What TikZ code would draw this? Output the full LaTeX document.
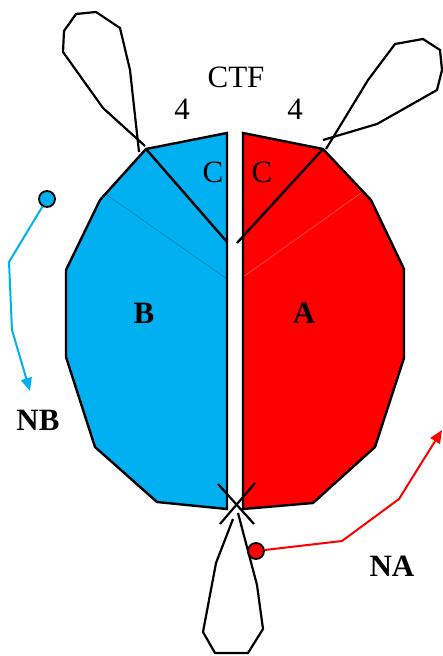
\documentclass[tikz,border=0pt]{standalone}
\usepackage{fontspec}
\setmainfont{Liberation Serif}
\usepackage{xcolor}
\usepackage{tikz}
\usetikzlibrary{positioning, arrows.meta}
\definecolor{partblue}{RGB}{0,176,240}
\definecolor{partred}{RGB}{255,0,0}

\begin{document}
\begin{tikzpicture}[x=1pt, y=-1pt, line join=miter,
    half/.style={draw=black, line width=2.4pt},
    seam/.style={line width=0.5pt},
    loopline/.style={draw=black, line width=2.2pt},
    lbl/.style={font=\fontsize{31}{31}\selectfont, inner sep=0pt, anchor=base},
    boldlbl/.style={lbl, font=\fontsize{31}{31}\selectfont\bfseries},
    dot/.style={circle, draw=black, line width=1.8pt, minimum size=16pt, inner sep=0pt},
    pathline/.style={line width=2pt, -{Triangle[length=13pt,width=11pt]}}]
    \useasboundingbox (0,0) rectangle (443,656);

    % half B
    \fill[partblue] (227,133) -- (146,149) -- (100,200) -- (66,270) -- (66,357)
      -- (95,447) -- (157,502) -- (227,509) -- cycle;
    \draw[seam, partblue!70!black] (107,195) -- (227,279);
    \draw[half] (227,133) -- (146,149) -- (100,200) -- (66,270) -- (66,357)
      -- (95,447) -- (157,502) -- (227,509) -- cycle;
    \draw[half] (146,149) -- (227,242);

    % half A
    \fill[partred] (243,133) -- (323,149) -- (371,200) -- (404,269) -- (404,358)
      -- (375,447) -- (313,503) -- (243,509) -- cycle;
    \draw[seam, partred!60!white] (361,193) -- (243,277);
    \draw[half] (243,133) -- (323,149) -- (371,200) -- (404,269) -- (404,358)
      -- (375,447) -- (313,503) -- (243,509) -- cycle;
    \draw[half] (323,149) -- (237,243);

    % loops
    \draw[loopline] (139,152) -- (130,70) -- (120,28) -- (96,12) -- (76,14)
      -- (64,31) -- (63,52) -- (103,108) -- (145,146);
    \draw[loopline] (326,149) -- (368,80) -- (395,44) -- (423,39) -- (440,50)
      -- (442,70) -- (437,90) -- (377,124) -- (323,140);
    \draw[loopline] (218,484) -- (254,524);
    \draw[loopline] (255,483) -- (220,524);
    \draw[loopline] (233,519) -- (216,563) -- (203,632) -- (215,653)
      -- (248,653) -- (263,629) -- (257,585) -- (238,513);

    % labels
    \node[lbl] (ctf) at (236,87) {CTF};
    \node[lbl] (fourB) at (182,119) {4};
    \node[lbl] (fourA) at (295,119) {4};
    \node[lbl] (cB) at (213,182) {C};
    \node[lbl] (cA) at (262,182) {C};
    \node[boldlbl] (partB) at (144,323) {B};
    \node[boldlbl] (partA) at (304,323) {A};
    \node[boldlbl] (nb) at (38,430) {NB};
    \node[boldlbl] (na) at (392,576) {NA};

    % paths
    \node[dot, fill=partblue] (nbdot) at (47,199) {};
    \coordinate (nbend) at (30,391);
    \draw[pathline, partblue] (nbdot) -- (9,262) -- (12,330) -- (nbend);

    \node[dot, fill=partred] (nadot) at (256,551) {};
    \coordinate (naend) at (442,430);
    \draw[pathline, partred] (nadot) -- (342,541) -- (399,499) -- (naend);
  \end{tikzpicture}
\end{document}
